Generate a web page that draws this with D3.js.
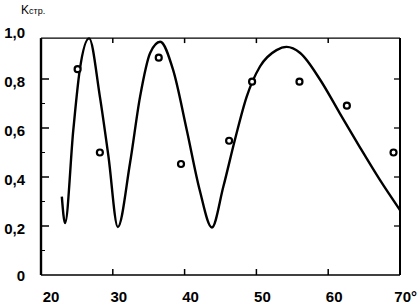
<html>
<head>
<meta charset="utf-8">
<script src="https://d3js.org/d3.v7.min.js"></script>
<style>
body {
	margin: 0;
	background: #fff;
}
text {
	font-family: "Liberation Sans", Arial, sans-serif;
	fill: #000;
}
</style>
</head>
<body>

<svg id="chart" width="418" height="306"></svg>

<script>

// measured points (angle, K)
var pointX = [25.1, 28.2, 36.4, 39.5, 46.2, 49.4, 56.0, 62.6, 69.1]
var pointY = [0.84, 0.50, 0.887, 0.453, 0.548, 0.789, 0.789, 0.691, 0.50]

// calculated curve
var curveX = [22.9, 23.35, 24.5, 25.4, 26.7, 28.2, 29.4, 30.7, 32.4, 33.8, 35.2, 36.6, 38.4, 40.3, 42.1, 43.8,
	45.4, 47.0, 48.65, 50.5, 52.8, 54.2, 56.1, 58.9, 61.6, 64.4, 67.2, 70.0]
var curveY = [0.32, 0.212, 0.592, 0.837, 0.966, 0.728, 0.483, 0.196, 0.457, 0.728, 0.906, 0.952, 0.837, 0.592, 0.347, 0.194,
	0.361, 0.551, 0.728, 0.851, 0.918, 0.931, 0.906, 0.796, 0.661, 0.522, 0.388, 0.265]

var xTicks = [20, 30, 40, 50, 60, 70]
var xLabels = ["20", "30", "40", "50", "60", "70°"]
var yTicks = [0, 0.2, 0.4, 0.6, 0.8, 1.0]
var yLabels = ["0", "0,2", "0,4", "0,6", "0,8", "1,0"]
var yMinor = [0.1, 0.3, 0.5, 0.7]

var svg = d3.select("#chart")

var x = d3.scaleLinear().domain([20, 70]).range([41, 400])
var y = d3.scaleLinear().domain([0, 1]).range([275, 30])

var yTop = y(0.967), yBottom = y(0)

// frame
svg.append("line").attr("x1", x(20)).attr("x2", x(70)).attr("y1", yTop).attr("y2", yTop)
	.attr("stroke", "#000").attr("stroke-width", 1.4)
svg.append("line").attr("x1", x(20)).attr("x2", x(70)).attr("y1", yBottom).attr("y2", yBottom)
	.attr("stroke", "#000").attr("stroke-width", 1.6)
svg.append("line").attr("x1", x(20)).attr("x2", x(20)).attr("y1", yTop).attr("y2", yBottom)
	.attr("stroke", "#000").attr("stroke-width", 2.4)
svg.append("line").attr("x1", x(70)).attr("x2", x(70)).attr("y1", yTop).attr("y2", yBottom)
	.attr("stroke", "#000").attr("stroke-width", 2)

// ticks, all pointing inward
var inner = yTicks.slice(1, 5)
svg.selectAll(".yl").data(inner).enter().append("line")
	.attr("x1", x(20)).attr("x2", x(20) + 8)
	.attr("y1", d => y(d)).attr("y2", d => y(d))
	.attr("stroke", "#000").attr("stroke-width", 1.5)
svg.selectAll(".ym").data(yMinor).enter().append("line")
	.attr("x1", x(20)).attr("x2", x(20) + 4)
	.attr("y1", d => y(d)).attr("y2", d => y(d))
	.attr("stroke", "#000").attr("stroke-width", 1)
svg.selectAll(".yr").data(inner).enter().append("line")
	.attr("x1", x(70)).attr("x2", x(70) - 6)
	.attr("y1", d => y(d)).attr("y2", d => y(d))
	.attr("stroke", "#000").attr("stroke-width", 1.3)

var innerX = xTicks.slice(1, 5)
svg.selectAll(".xb").data(innerX).enter().append("line")
	.attr("x1", d => x(d)).attr("x2", d => x(d))
	.attr("y1", yBottom).attr("y2", yBottom - 6)
	.attr("stroke", "#000").attr("stroke-width", 1.5)
svg.selectAll(".xt").data(innerX).enter().append("line")
	.attr("x1", d => x(d)).attr("x2", d => x(d))
	.attr("y1", yTop).attr("y2", yTop + 5)
	.attr("stroke", "#000").attr("stroke-width", 1.5)

// tick labels
svg.selectAll(".ylab").data(yTicks).enter().append("text")
	.attr("x", 25)
	.attr("y", (d, i) => y(d) + (i == 0 ? 1 : 3))
	.attr("dy", "0.35em")
	.attr("text-anchor", "end")
	.style("font-size", "15px").style("font-weight", "bold")
	.text((d, i) => yLabels[i])

svg.selectAll(".xlab").data(xTicks).enter().append("text")
	.attr("x", (d, i) => i == 5 ? 417 : x(d) + (i == 0 ? 10 : 6))
	.attr("y", 302)
	.attr("text-anchor", (d, i) => i == 5 ? "end" : "middle")
	.style("font-size", "15px").style("font-weight", "bold")
	.text((d, i) => xLabels[i])

// axis title
var title = svg.append("text").attr("x", 21).attr("y", 14).style("font-size", "12px")
title.append("tspan").text("K")
title.append("tspan").style("font-size", "9px").text("стр.")

// curve
var line = d3.line()
	.x(d => x(d[0]))
	.y(d => y(d[1]))
	.curve(d3.curveMonotoneX)

svg.append("path")
	.datum(curveX.map((v, i) => [v, curveY[i]]))
	.attr("d", line)
	.attr("fill", "none")
	.attr("stroke", "#000")
	.attr("stroke-width", 2.4)

// points
svg.selectAll(".pt").data(pointX).enter().append("circle")
	.attr("cx", d => x(d))
	.attr("cy", (d, i) => y(pointY[i]))
	.attr("r", 3)
	.attr("fill", "#fff")
	.attr("stroke", "#000")
	.attr("stroke-width", 2.2)

</script>
</body>
</html>
